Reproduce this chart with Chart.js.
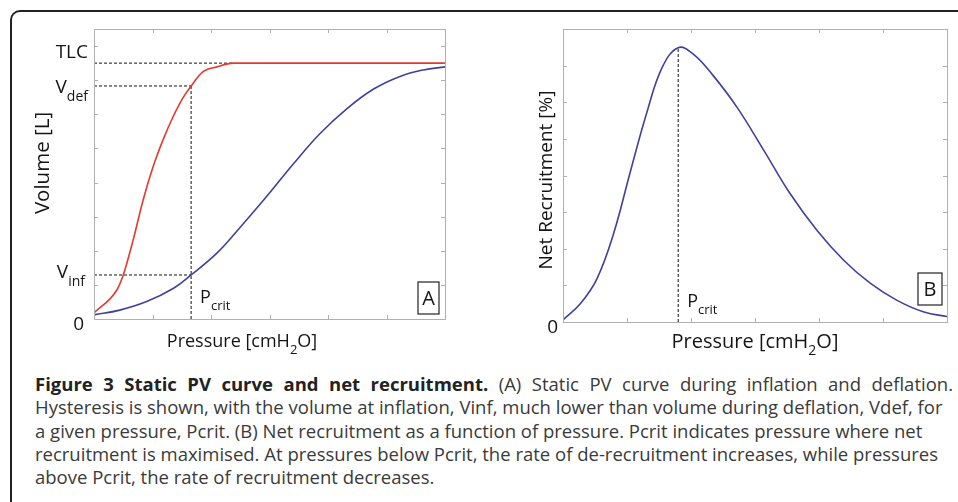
<!DOCTYPE html>
<html>
<head>
<meta charset="utf-8">
<script src="https://cdn.jsdelivr.net/npm/chart.js@4.4.1/dist/chart.umd.min.js"></script>
<style>
  body { margin: 0; background: #fff; width: 958px; height: 502px; overflow: hidden; position: relative; font-family: 'Open Sans', sans-serif; }
  .frame { position: absolute; left: 10px; top: 10px; width: 1000px; height: 600px; border-left: 2px solid #222; border-top: 2px solid #222; border-top-left-radius: 10px; }
  #panelA { position: absolute; left: 0; top: 0; }
  #panelB { position: absolute; left: 480px; top: 0; }
  .caption { position: absolute; left: 35px; top: 372px; width: 918px; font-size: 18.5px; line-height: 23.3px; color: #3a3a3a; }
  .caption div { white-space: nowrap; }
  .caption .first { text-align: justify; text-align-last: justify; }
  .caption b { color: #222; }
</style>
</head>
<body>
<div class="frame"></div>
<canvas id="panelA" width="480" height="360"></canvas>
<canvas id="panelB" width="478" height="360"></canvas>
<div class="caption">
  <div class="first"><b>Figure 3 Static PV curve and net recruitment.</b> (A) Static PV curve during inflation and deflation.</div>
  <div>Hysteresis is shown, with the volume at inflation, Vinf, much lower than volume during deflation, Vdef, for</div>
  <div>a given pressure, Pcrit. (B) Net recruitment as a function of pressure. Pcrit indicates pressure where net</div>
  <div>recruitment is maximised. At pressures below Pcrit, the rate of de-recruitment increases, while pressures</div>
  <div>above Pcrit, the rate of recruitment decreases.</div>
</div>
<script>
// Panel A: static PV curve (pressure vs volume, arbitrary units)
const deflationP = [0, 0.39, 0.50, 0.67, 0.84, 1.01, 1.18, 1.35, 1.52, 1.66, 1.86, 2.10, 2.38, 6];
const deflationV = [0.18, 0.85, 1.29, 2.32, 3.49, 4.46, 5.25, 5.92, 6.48, 6.83, 7.24, 7.39, 7.5, 7.5];
const inflationP = [0, 0.44, 0.90, 1.36, 1.66, 2.10, 2.50, 2.95, 3.41, 3.86, 4.32, 4.78, 5.23, 5.63, 6];
const inflationV = [0.12, 0.26, 0.51, 0.90, 1.29, 1.93, 2.69, 3.59, 4.55, 5.43, 6.16, 6.74, 7.11, 7.30, 7.39];
const tlc = 7.5;
const tlcReach = 2.38;
const vDef = 6.83;
const vInf = 1.29;
const pCritA = 1.66;

// Panel B: net recruitment vs pressure
const recruitP = [0, 0.27, 0.53, 0.79, 1.05, 1.31, 1.55, 1.80, 2.04, 2.35, 2.72, 3.14, 3.55, 3.97, 4.39, 4.80, 5.22, 5.64, 6];
const recruitV = [0.06, 0.50, 1.18, 2.41, 4.09, 5.72, 6.95, 7.49, 7.31, 6.72, 5.86, 4.68, 3.50, 2.50, 1.68, 1.06, 0.59, 0.27, 0.15];
const pCritB = 1.80;
const peakB = 7.49;

// tick marks (no numbers shown)
const pressureTicks = [1, 2, 3, 4, 5];
const volumeTicks = [1, 2, 3, 4, 5, 6, 7, 8];
const recruitTicks = [1, 2, 3, 4, 5, 6, 7];

const TEXT = '#151515';
const FONT = "'Open Sans', sans-serif";

const toPoints = (xs, ys) => xs.map((x, i) => ({ x: x, y: ys[i] }));

function curve(xs, ys, color, monotone) {
    return {
        data: toPoints(xs, ys),
        borderColor: color,
        borderWidth: 1.6,
        cubicInterpolationMode: monotone ? 'monotone' : 'default',
        tension: 0.4,
        pointRadius: 0
    };
}

function guide(points) {
    return {
        data: points,
        borderColor: '#111',
        borderWidth: 1,
        borderDash: [3, 2],
        pointRadius: 0,
        tension: 0
    };
}

// text with optional subscript runs: [{t:'V'}, {t:'def', sub:true}]
function drawRich(ctx, parts, x, y, align, size) {
    const subSize = Math.round(size * 0.72);
    let total = 0;
    parts.forEach(p => {
        ctx.font = (p.sub ? subSize : size) + 'px ' + FONT;
        p.w = ctx.measureText(p.t).width;
        total += p.w;
    });
    let cx = align === 'right' ? x - total : align === 'center' ? x - total / 2 : x;
    ctx.textAlign = 'left';
    ctx.textBaseline = 'middle';
    ctx.fillStyle = TEXT;
    parts.forEach(p => {
        ctx.font = (p.sub ? subSize : size) + 'px ' + FONT;
        ctx.fillText(p.t, cx, p.sub ? y + size * 0.45 : y);
        cx += p.w;
    });
}

function drawFrame(chart, xTicks, yTicks) {
    const { ctx, chartArea: a, scales } = chart;
    ctx.save();
    ctx.strokeStyle = '#b0b0b0';
    ctx.lineWidth = 1;
    ctx.strokeRect(a.left + 0.5, a.top + 0.5, a.right - a.left, a.bottom - a.top);
    ctx.beginPath();
    xTicks.forEach(v => {
        const px = Math.round(scales.x.getPixelForValue(v)) + 0.5;
        ctx.moveTo(px, a.bottom); ctx.lineTo(px, a.bottom - 4);
        ctx.moveTo(px, a.top); ctx.lineTo(px, a.top + 4);
    });
    yTicks.forEach(v => {
        const py = Math.round(scales.y.getPixelForValue(v)) + 0.5;
        ctx.moveTo(a.left, py); ctx.lineTo(a.left + 4, py);
        ctx.moveTo(a.right, py); ctx.lineTo(a.right - 4, py);
    });
    ctx.stroke();
    ctx.restore();
}

function drawPanelTag(ctx, letter, x, y, w, h) {
    ctx.save();
    ctx.strokeStyle = '#222';
    ctx.lineWidth = 1.2;
    ctx.fillStyle = '#fff';
    ctx.fillRect(x, y, w, h);
    ctx.strokeRect(x, y, w, h);
    ctx.fillStyle = TEXT;
    ctx.font = '20px ' + FONT;
    ctx.textAlign = 'center';
    ctx.textBaseline = 'middle';
    ctx.fillText(letter, x + w / 2, y + h / 2 + 1);
    ctx.restore();
}

function drawYTitle(ctx, text, x, y, size) {
    ctx.save();
    ctx.translate(x, y);
    ctx.rotate(-Math.PI / 2);
    ctx.font = size + 'px ' + FONT;
    ctx.fillStyle = TEXT;
    ctx.textAlign = 'center';
    ctx.textBaseline = 'middle';
    ctx.fillText(text, 0, 0);
    ctx.restore();
}

const pressureTitle = [{ t: 'Pressure [cmH' }, { t: '2', sub: true }, { t: 'O]' }];
const pCritLabel = [{ t: 'P' }, { t: 'crit', sub: true }];

function options(xMax, yMax, yWidth, xHeight, padRight) {
    return {
        responsive: false,
        animation: false,
        layout: { padding: { top: 29, right: padRight, left: 0, bottom: 0 } },
        plugins: { legend: { display: false }, tooltip: { enabled: false } },
        scales: {
            x: {
                type: 'linear', min: 0, max: xMax,
                grid: { display: false }, border: { display: false }, ticks: { display: false },
                afterFit: s => { s.height = xHeight; }
            },
            y: {
                type: 'linear', min: 0, max: yMax,
                grid: { display: false }, border: { display: false }, ticks: { display: false },
                afterFit: s => { s.width = yWidth; }
            }
        }
    };
}

const decorA = {
    id: 'decorA',
    afterDraw(chart) {
        const { ctx, chartArea: a, scales } = chart;
        drawFrame(chart, pressureTicks, volumeTicks);
        const y = v => scales.y.getPixelForValue(v);
        const x = v => scales.x.getPixelForValue(v);
        ctx.save();
        drawRich(ctx, [{ t: 'TLC' }], a.left - 6, y(tlc) - 11, 'right', 19);
        drawRich(ctx, [{ t: 'V' }, { t: 'def', sub: true }], a.left - 6, y(vDef) + 2, 'right', 19);
        drawRich(ctx, [{ t: 'V' }, { t: 'inf', sub: true }], a.left - 9, y(vInf) - 2, 'right', 19);
        drawRich(ctx, [{ t: '0' }], a.left - 10, y(0) + 6, 'right', 19);
        drawRich(ctx, pCritLabel, x(pCritA) + 9, a.bottom - 21, 'left', 18);
        drawRich(ctx, pressureTitle, 242, 342, 'center', 18);
        drawYTitle(ctx, 'Volume [L]', 43, 163, 20.5);
        drawPanelTag(ctx, 'A', a.right - 27, a.bottom - 37, 21, 32);
        ctx.restore();
    }
};

const decorB = {
    id: 'decorB',
    afterDraw(chart) {
        const { ctx, chartArea: a, scales } = chart;
        drawFrame(chart, pressureTicks, recruitTicks);
        const x = v => scales.x.getPixelForValue(v);
        ctx.save();
        drawRich(ctx, [{ t: '0' }], a.left - 5, a.bottom + 6, 'right', 19);
        drawRich(ctx, pCritLabel, x(pCritB) + 9, a.bottom - 20, 'left', 18);
        drawRich(ctx, pressureTitle, 275, 342, 'center', 20);
        drawYTitle(ctx, 'Net Recruitment [%]', 67, 180, 19);
        drawPanelTag(ctx, 'B', a.right - 29, a.bottom - 49, 24, 32);
        ctx.restore();
    }
};

new Chart(document.getElementById('panelA'), {
    type: 'line',
    data: {
        datasets: [
            curve(deflationP, deflationV, '#e53a2c', true),
            curve(inflationP, inflationV, '#40419c', false),
            guide([{ x: 0, y: tlc }, { x: tlcReach, y: tlc }]),
            guide([{ x: 0, y: vDef }, { x: pCritA, y: vDef }]),
            guide([{ x: 0, y: vInf }, { x: pCritA, y: vInf }]),
            guide([{ x: pCritA, y: 0 }, { x: pCritA, y: vDef }])
        ]
    },
    options: options(6, 8.5, 94, 41, 35),
    plugins: [decorA]
});

new Chart(document.getElementById('panelB'), {
    type: 'line',
    data: {
        datasets: [
            curve(recruitP, recruitV, '#40419c', false),
            guide([{ x: pCritB, y: 0 }, { x: pCritB, y: peakB }])
        ]
    },
    options: options(6, 8, 83, 38, 11),
    plugins: [decorB]
});
</script>
</body>
</html>
